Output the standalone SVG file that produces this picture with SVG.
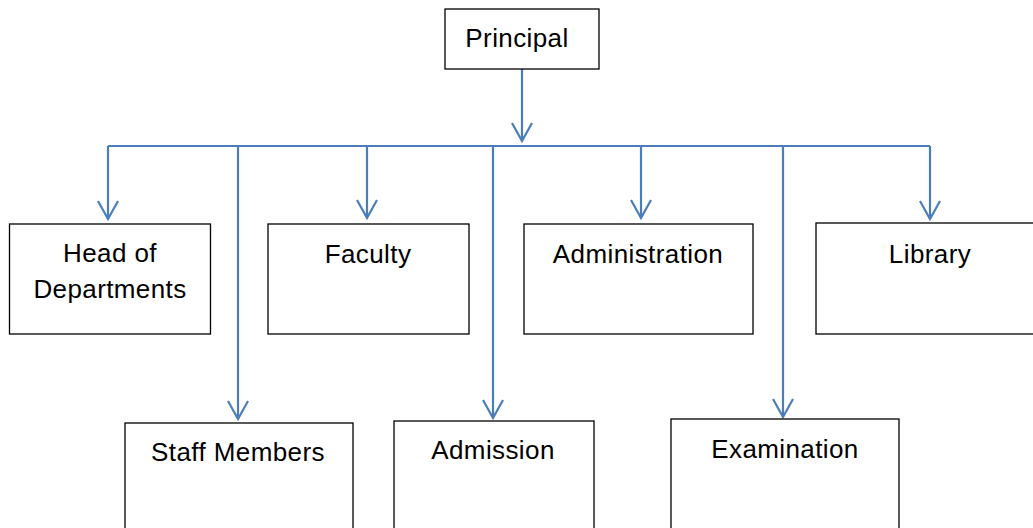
<svg xmlns="http://www.w3.org/2000/svg" width="1033" height="528" viewBox="0 0 1033 528">
<style>
.box{fill:#fff;stroke:#000;stroke-width:1.3}
.lbl{font-family:"Liberation Sans",Arial,sans-serif;font-size:26px;letter-spacing:0.4px;fill:#000;text-anchor:middle}
.con{fill:none;stroke:#4a7ebb;stroke-width:2.2}
</style>
<defs>
<marker id="arr" markerUnits="userSpaceOnUse" markerWidth="40" markerHeight="40" orient="auto" refX="0" refY="0" viewBox="-20 -20 40 40" overflow="visible">
<path d="M-18,-10 L0,0 L-18,10" fill="none" stroke="#4a7ebb" stroke-width="2.2"/>
</marker>
</defs>
<g id="connectors">
<path class="con" d="M522,69 V141" marker-end="url(#arr)"/>
<path class="con" d="M108,146 H930"/>
<path class="con" d="M108,146 V219" marker-end="url(#arr)"/>
<path class="con" d="M367,146 V218" marker-end="url(#arr)"/>
<path class="con" d="M641,146 V218" marker-end="url(#arr)"/>
<path class="con" d="M930,146 V219" marker-end="url(#arr)"/>
<path class="con" d="M238,146 V419" marker-end="url(#arr)"/>
<path class="con" d="M493,146 V418" marker-end="url(#arr)"/>
<path class="con" d="M783,146 V417" marker-end="url(#arr)"/>
</g>
<g id="principal"><rect class="box" x="445" y="9" width="154" height="60"/><text class="lbl" x="517" y="47">Principal</text></g>
<g id="hod"><rect class="box" x="9.5" y="224" width="201" height="110"/><text class="lbl" x="110" y="262">Head of</text><text class="lbl" x="110" y="298">Departments</text></g>
<g id="faculty"><rect class="box" x="268" y="224" width="201" height="110"/><text class="lbl" x="368" y="263">Faculty</text></g>
<g id="administration"><rect class="box" x="524" y="224" width="229" height="110"/><text class="lbl" x="638" y="263">Administration</text></g>
<g id="library"><rect class="box" x="816" y="223" width="230" height="111"/><text class="lbl" x="930" y="263">Library</text></g>
<g id="staff"><rect class="box" x="125" y="423" width="228" height="120"/><text class="lbl" x="238" y="461">Staff Members</text></g>
<g id="admission"><rect class="box" x="394" y="421" width="200" height="120"/><text class="lbl" x="493" y="459">Admission</text></g>
<g id="examination"><rect class="box" x="671" y="419" width="228" height="120"/><text class="lbl" x="785" y="458">Examination</text></g>
</svg>
